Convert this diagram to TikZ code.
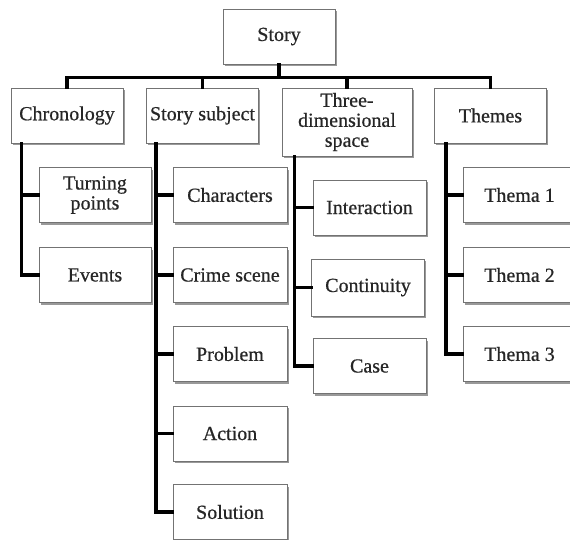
\documentclass[tikz,border=0pt]{standalone}
\usepackage{fontspec}
\setmainfont[FakeBold=0.6]{Liberation Serif}
\usetikzlibrary{shadows}
\tikzset{>=latex}
\tikzset{
    box/.style={draw=black!55, line width=0.9pt, fill=white, minimum width=112pt, minimum height=55pt,
        align=center, inner sep=2pt, text=black!85, font=\fontsize{20}{20}\selectfont,
        drop shadow={shadow xshift=1.5pt, shadow yshift=-2.2pt, fill=black!50, opacity=0.8}},
    link/.style={draw=black, line width=3.2pt, line join=miter, line cap=rect}
}

\begin{document}
\begin{tikzpicture}[x=1pt, y=-1pt]
    \useasboundingbox (0,0) rectangle (570,539);
    \clip (0,0) rectangle (570,539);
    \fill[white] (0,0) rectangle (570,539);

    % top level
    \node[box] (story) at (279,36.5) {Story};
    \node[box] (chron) at (67,115.5) {Chronology};
    \node[box] (subject) at (202.5,115.5) {Story subject};
    \node[box, minimum width=130pt, minimum height=68pt] (space) at (347,122) {Three-\\dimensional\\space};
    \node[box] (themes) at (490.5,115.5) {Themes};

    % second level
    \node[box] (turning) at (95,195) {Turning\\points};
    \node[box] (events) at (95,275) {Events};

    \node[box, minimum width=114pt] (characters) at (230,195) {Characters};
    \node[box, minimum width=114pt] (crime) at (230,275) {Crime scene};
    \node[box, minimum width=114pt] (problem) at (230,354) {Problem};
    \node[box, minimum width=114pt] (action) at (230,433.5) {Action};
    \node[box, minimum width=114pt] (solution) at (230,512) {Solution};

    \node[box, minimum width=113pt] (interaction) at (369.5,207.5) {Interaction};
    \node[box, minimum width=113pt, minimum height=57pt] (continuity) at (368,287.5) {Continuity};
    \node[box, minimum width=113pt] (case) at (369.5,366) {Case};

    \node[box, minimum width=113pt] (thema1) at (519.5,195) {Thema 1};
    \node[box, minimum width=113pt] (thema2) at (519.5,275) {Thema 2};
    \node[box, minimum width=113pt] (thema3) at (519.5,354) {Thema 3};

    % connectors
    \foreach \child in {chron,subject,space,themes}
        \draw[link] (story.south) -- ++(0,13) -| (\child.north);

    \foreach \child in {turning,events}
        \draw[link] ([xshift=11pt]chron.south west) |- (\child.west);
    \foreach \child in {characters,crime,problem,action,solution}
        \draw[link] ([xshift=10pt]subject.south west) |- (\child.west);
    \foreach \child in {interaction,continuity,case}
        \draw[link] ([xshift=13pt]space.south west) |- (\child.west);
    \foreach \child in {thema1,thema2,thema3}
        \draw[link] ([xshift=12pt]themes.south west) |- (\child.west);
\end{tikzpicture}
\end{document}
